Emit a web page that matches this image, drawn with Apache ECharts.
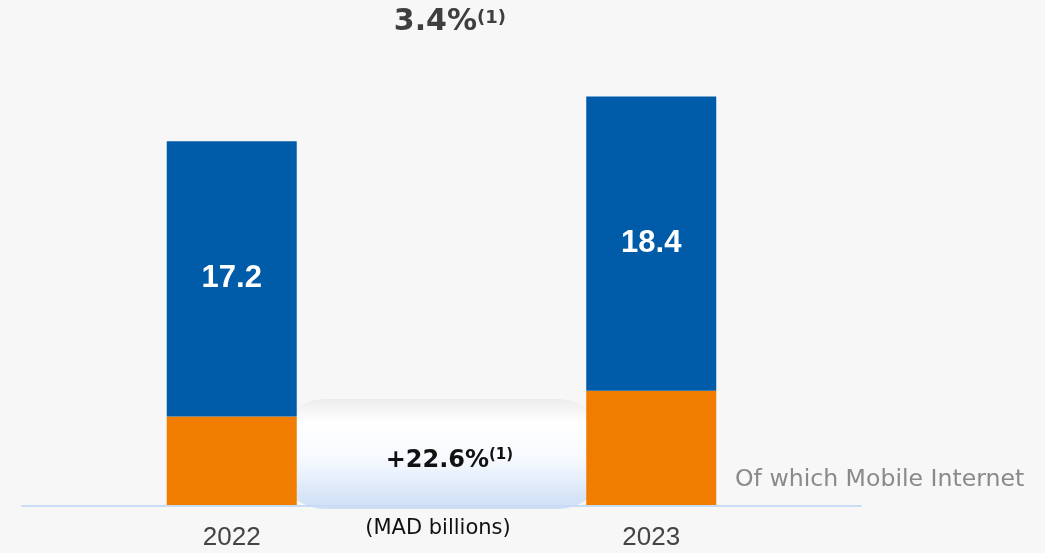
<!DOCTYPE html>
<html>
<head>
<meta charset="utf-8">
<title>Revenue (MAD billions)</title>
<script src="https://cdn.jsdelivr.net/npm/echarts@6/dist/echarts.min.js"></script>
<style>
  html, body { margin: 0; padding: 0; background: #f7f7f7; }
  #chart { width: 1045px; height: 553px; }
</style>
</head>
<body>
<div id="chart"></div>
<script>
// Categories and values (MAD billions)
const years = ['2022', '2023'];
const mobileInternet = [5.6, 7.2];
const otherRevenue = [17.2, 18.4];

// Annotation texts
const totalGrowth = '3.4%';
const mobileGrowth = '+22.6%';
const footnoteMark = '(1)';
const unitText = '(MAD billions)';
const mobileLabel = 'Of which Mobile Internet';

const BLUE = '#005ca9';
const ORANGE = '#f07d00';
const SANS = '"DejaVu Sans", Verdana, sans-serif';
const ARIAL = '"Liberation Sans", Arial, sans-serif';

const chart = echarts.init(document.getElementById('chart'), null, { renderer: 'canvas' });

chart.setOption({
  backgroundColor: '#f7f7f7',
  animation: false,
  grid: { left: 22, right: 184, top: 26, bottom: 47 },
  xAxis: {
    type: 'category',
    data: years,
    axisLine: { lineStyle: { color: '#c9dcf5', width: 2 } },
    axisTick: { show: false },
    axisLabel: { color: '#444', fontFamily: ARIAL, fontSize: 26, margin: 19 },
    z: 5
  },
  yAxis: { type: 'value', min: 0, max: 30, show: false, splitLine: { show: false } },
  series: [
    {
      name: 'Mobile Internet',
      type: 'bar',
      stack: 'rev',
      barWidth: 130,
      itemStyle: { color: ORANGE },
      data: mobileInternet,
      z: 3
    },
    {
      name: 'Revenue',
      type: 'bar',
      stack: 'rev',
      barWidth: 130,
      itemStyle: { color: BLUE },
      label: {
        show: true,
        position: 'inside',
        color: '#fff',
        fontFamily: ARIAL,
        fontWeight: 'bold',
        fontSize: 31,
        formatter: p => p.value.toFixed(1)
      },
      data: otherRevenue,
      z: 3
    }
  ],
  graphic: [
    {
      // rounded badge between the two bars, partly behind them
      type: 'rect',
      z: 0,
      shape: { x: 277, y: 399, width: 329, height: 110, r: 48 },
      style: {
        fill: new echarts.graphic.LinearGradient(0, 0, 0, 1, [
          { offset: 0, color: '#ececec' },
          { offset: 0.22, color: '#ffffff' },
          { offset: 0.55, color: '#f6f9fe' },
          { offset: 1, color: '#cddef5' }
        ])
      }
    },
    {
      type: 'text', z: 10, x: 477, y: 22,
      style: { text: totalGrowth, fill: '#3f3f3f', font: 'bold 30px ' + SANS, align: 'right', verticalAlign: 'middle' }
    },
    {
      type: 'text', z: 10, x: 477, y: 18,
      style: { text: footnoteMark, fill: '#3f3f3f', font: 'bold 18px ' + SANS, align: 'left', verticalAlign: 'middle' }
    },
    {
      type: 'text', z: 10, x: 489, y: 461,
      style: { text: mobileGrowth, fill: '#111', font: 'bold 24px ' + SANS, align: 'right', verticalAlign: 'middle' }
    },
    {
      type: 'text', z: 10, x: 489, y: 455,
      style: { text: footnoteMark, fill: '#111', font: 'bold 15px ' + SANS, align: 'left', verticalAlign: 'middle' }
    },
    {
      type: 'text', z: 10, x: 438, y: 529,
      style: { text: unitText, fill: '#111', font: '21px ' + SANS, align: 'center', verticalAlign: 'middle' }
    },
    {
      type: 'text', z: 10, x: 735, y: 480,
      style: { text: mobileLabel, fill: '#8a8a8a', font: '23.6px ' + SANS, align: 'left', verticalAlign: 'middle' }
    }
  ]
});
</script>
</body>
</html>
